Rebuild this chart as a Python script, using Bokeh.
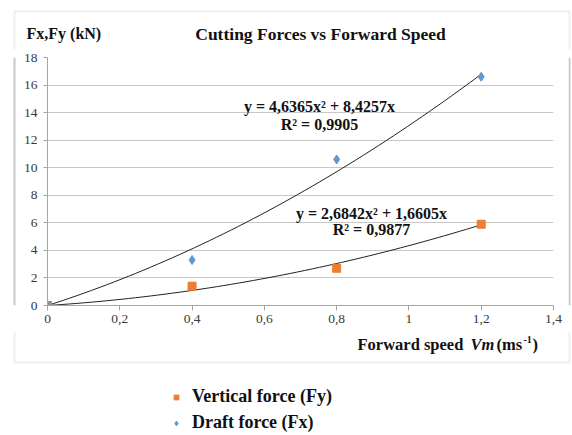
import numpy as np
from bokeh.plotting import figure
from bokeh.layouts import column, row
from bokeh.models import (Range1d, FixedTicker, Label, BoxAnnotation, Span, Legend, LegendItem)
from bokeh.embed import file_html
from bokeh.resources import INLINE

# ---- data ----
speed = [0.0, 0.4, 0.8, 1.2]
draft_force = [0.0, 3.3, 10.6, 16.6]      # Fx (kN)
vertical_force = [0.0, 1.4, 2.7, 5.9]     # Fy (kN)
draft_coef = [4.6365, 8.4257]             # y = a x^2 + b x
vertical_coef = [2.6842, 1.6605]
x_ticks = [0, 0.2, 0.4, 0.6, 0.8, 1.0, 1.2, 1.4]
x_tick_labels = ["0", "0,2", "0,4", "0,6", "0,8", "1", "1,2", "1,4"]
y_ticks = [0, 2, 4, 6, 8, 10, 12, 14, 16, 18]

SERIF = "Liberation Serif"
ORANGE = "#ED7D31"
BLUE = "#5B9BD5"
BORDER = "#C8C8C8"
INK = "#111111"


def pixel_fig(x0, y0, w, h):
    """A bare figure whose data coordinates equal the page pixel coordinates."""
    f = figure(width=w, height=h, output_backend="svg", toolbar_location=None,
               x_range=Range1d(x0, x0 + w), y_range=Range1d(y0 + h, y0),
               x_axis_location=None, y_axis_location=None,
               min_border=0, min_border_left=0, min_border_right=0,
               min_border_top=0, min_border_bottom=0)
    f.outline_line_color = None
    f.background_fill_color = "white"
    f.border_fill_color = "white"
    f.grid.visible = False
    return f


def text(f, s, x, y, size="16px", style="bold", align="left", color=INK):
    f.add_layout(Label(x=x, y=y, text=s, text_font=SERIF, text_font_size=size,
                       text_font_style=style, text_align=align,
                       text_baseline="middle", text_color=color))


# ---------------- header (title area) ----------------
header = pixel_fig(0, 0, 572, 49)
header.add_layout(BoxAnnotation(left=14, right=569, top=11, bottom=120, fill_alpha=0,
                                line_color=BORDER, line_width=2))
text(header, "Fx,Fy (kN)", 26, 33)
text(header, "Cutting Forces vs Forward Speed", 320, 33, size="17.5px", align="center")

# ---------------- border strips ----------------
strip_l = pixel_fig(0, 49, 16, 283)
strip_l.add_layout(Span(location=14, dimension="height", line_color=BORDER, line_width=2))
strip_r = pixel_fig(568, 49, 4, 283)
strip_r.add_layout(Span(location=569, dimension="height", line_color=BORDER, line_width=2))

# ---------------- chart ----------------
p = figure(width=552, height=283, output_backend="svg", toolbar_location=None,
           x_range=Range1d(0, 1.4), y_range=Range1d(0, 18),
           min_border_left=31, min_border_right=15, min_border_top=8,
           min_border_bottom=27)
p.outline_line_color = None
p.background_fill_color = "white"
p.border_fill_color = "white"

for ax in (p.xaxis[0], p.yaxis[0]):
    ax.axis_line_color = "#A6A6A6"
    ax.major_tick_line_color = "#A6A6A6"
    ax.minor_tick_line_color = None
    ax.major_tick_in = 0
    ax.major_label_text_font = SERIF
    ax.major_label_text_font_size = "13.5px"
    ax.major_label_text_color = "#3A3A3A"
p.xaxis.ticker = FixedTicker(ticks=x_ticks)
p.xaxis.major_label_overrides = {t: l for t, l in zip(x_ticks, x_tick_labels)}
p.xaxis.major_tick_out = 5
p.xaxis.major_label_standoff = 4
p.yaxis.ticker = FixedTicker(ticks=y_ticks)
p.yaxis.major_tick_out = 4
p.yaxis.major_label_standoff = 6
p.xgrid.grid_line_color = None
p.ygrid.grid_line_color = "#C8C8C8"
p.ygrid.grid_line_width = 1

xs = np.linspace(0, 1.2, 60)
p.line(xs, draft_coef[0] * xs**2 + draft_coef[1] * xs, line_color="#222222", line_width=1)
p.line(xs, vertical_coef[0] * xs**2 + vertical_coef[1] * xs, line_color="#222222", line_width=1)

p.scatter(speed, vertical_force, marker="square", size=8, fill_color=ORANGE, line_color=ORANGE)
p.scatter(speed, draft_force, marker="diamond", size=9, fill_color=BLUE, line_color=BLUE)


def dx(px):  # page x -> data x
    return (px - 47) / (506 / 1.4)


def dy(py):  # page y -> data y
    return (305 - py) / (248 / 18)


text(p, "y = 4,6365x² + 8,4257x", dx(319), dy(106), align="center")
text(p, "R² = 0,9905", dx(319), dy(124), align="center")
text(p, "y = 2,6842x² + 1,6605x", dx(371), dy(213), align="center")
text(p, "R² = 0,9877", dx(371), dy(229), align="center")

# ---------------- footer (axis title + legend) ----------------
footer = pixel_fig(0, 332, 572, 103)
footer.add_layout(BoxAnnotation(left=14, right=569, top=200, bottom=362, fill_alpha=0,
                                line_color=BORDER, line_width=2))
text(footer, "Forward speed", 357, 344, size="16.5px")
text(footer, "Vm", 470, 344, size="16.5px", style="bold italic")
text(footer, "(ms", 496, 344, size="16.5px")
text(footer, "-1", 523, 339, size="10px")
text(footer, ")", 532, 344, size="16.5px")

# legend swatches: the series drawn in the footer fall outside its visible area,
# they only serve as legend glyphs
lv = footer.scatter(speed, vertical_force, marker="square", size=8,
                    fill_color=ORANGE, line_color=ORANGE)
ld = footer.scatter(speed, draft_force, marker="diamond", size=9,
                    fill_color=BLUE, line_color=BLUE)
legend = Legend(items=[LegendItem(label="Vertical force (Fy)", renderers=[lv]),
                       LegendItem(label="Draft force (Fx)", renderers=[ld])],
                location=(170, 2), orientation="vertical",
                label_text_font=SERIF, label_text_font_size="18px",
                label_text_font_style="bold", label_text_color=INK,
                glyph_width=12, glyph_height=20, label_height=20, label_standoff=10,
                spacing=5, padding=0, margin=0, border_line_color=None,
                background_fill_alpha=0)
footer.add_layout(legend, "center")

layout = column(header, row(strip_l, p, strip_r), footer)
open("out.html", "w").write(file_html(layout, INLINE))
